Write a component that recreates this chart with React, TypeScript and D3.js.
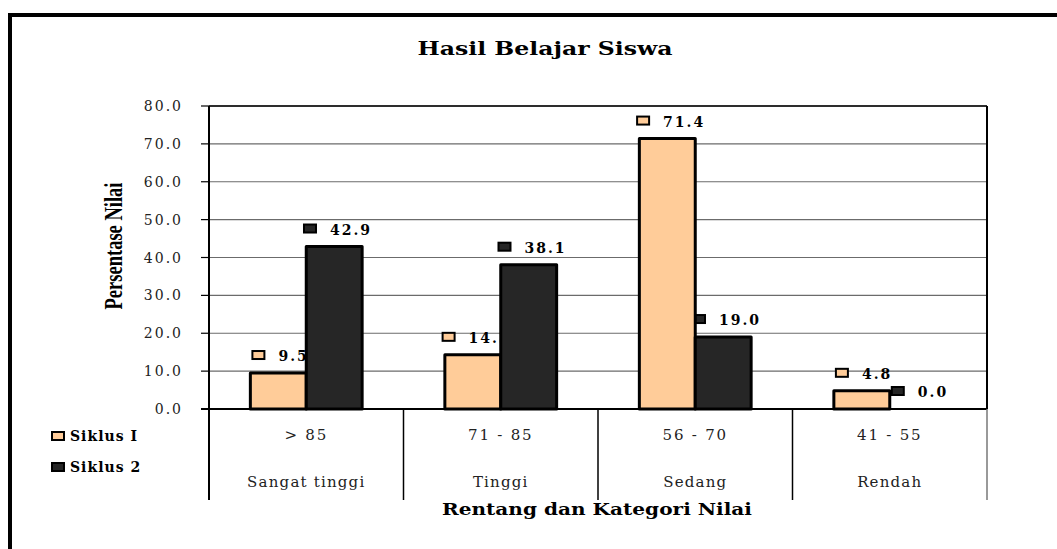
import * as d3 from "d3"

const ranges = ["> 85", "71 - 85", "56 - 70", "41 - 55"]
const kategori = ["Sangat tinggi", "Tinggi", "Sedang", "Rendah"]
const seriesNames = ["Siklus I", "Siklus 2"]
const siklus1 = [9.5, 14.3, 71.4, 4.8]
const siklus2 = [42.9, 38.1, 19.0, 0.0]
const yTicks = [0, 10, 20, 30, 40, 50, 60, 70, 80]

const colors = ["#FFCC99", "#262626"]
const serif = "'DejaVu Serif', serif"
const timesLike = "'Liberation Serif', serif"

export default function App() {
  const width = 1057
  const height = 549
  const plot = { left: 209, right: 987, top: 106, bottom: 409 }
  const tableBottom = 500

  const x = d3.scaleBand().domain(ranges).range([plot.left, plot.right])
  const xs = d3
    .scaleBand()
    .domain(seriesNames)
    .range([0, x.bandwidth()])
    .paddingInner(0)
    .paddingOuter(0.74)
  const y = d3.scaleLinear().domain([0, 80]).range([plot.bottom, plot.top])

  const values = [siklus1, siklus2]

  return (
    <svg
      width={width}
      height={height}
      style={{ position: "absolute", left: 0, top: 0, background: "#fff", fontFamily: serif }}
    >
      {/* bingkai luar */}
      <rect x={10} y={15} width={1200} height={700} fill="none" stroke="#000" strokeWidth={4} />

      <text x={545} y={55} textAnchor="middle" fontSize={19} fontWeight="bold" textLength={255} lengthAdjust="spacingAndGlyphs">
        Hasil Belajar Siswa
      </text>

      {/* grid + sumbu y */}
      {yTicks.map((t) => (
        <g key={t}>
          <line x1={plot.left} x2={plot.right} y1={y(t)} y2={y(t)} stroke="#6b6b6b" strokeWidth={1.2} />
          <line x1={201} x2={plot.left} y1={y(t)} y2={y(t)} stroke="#000" strokeWidth={1.2} />
          <text x={183} y={y(t) + 5} textAnchor="end" fontSize={14} letterSpacing={2} fill="#222">
            {t.toFixed(1)}
          </text>
        </g>
      ))}

      <text
        transform="translate(122,246) rotate(-90)"
        textAnchor="middle"
        fontSize={26}
        fontWeight="bold"
        fontFamily={timesLike}
        textLength={127}
        lengthAdjust="spacingAndGlyphs"
      >
        Persentase Nilai
      </text>

      {/* label data (di bawah batang) */}
      {ranges.map((r, i) =>
        seriesNames.map((s, j) => {
          const v = values[j][i]
          const cx = (x(r) ?? 0) + (xs(s) ?? 0) + xs.bandwidth() / 2
          const ly = y(v) - 18
          const label = v.toFixed(1)
          const w = 15 + 11 + label.length * 8.6
          const x0 = cx - w / 2
          return (
            <g key={`${r}-${s}`}>
              <rect x={x0} y={ly - 4} width={12} height={8} fill={colors[j]} stroke="#000" strokeWidth={2} />
              <text x={x0 + 26} y={ly + 6} fontSize={14} fontWeight="bold" letterSpacing={2}>
                {label}
              </text>
            </g>
          )
        })
      )}

      {/* batang */}
      {ranges.map((r, i) => (
        <g key={r}>
          {seriesNames.map((s, j) => {
            const bx = (x(r) ?? 0) + (xs(s) ?? 0)
            const v = values[j][i]
            return (
              <rect
                key={s}
                x={bx}
                y={y(v)}
                width={xs.bandwidth()}
                height={plot.bottom - y(v)}
                fill={colors[j]}
                stroke="#000"
                strokeWidth={3}
                strokeLinejoin="round"
              />
            )
          })}
        </g>
      ))}

      {/* bingkai plot */}
      <line x1={plot.left} x2={plot.right} y1={plot.top} y2={plot.top} stroke="#000" strokeWidth={1.5} />
      <line x1={plot.right} x2={plot.right} y1={plot.top} y2={plot.bottom} stroke="#000" strokeWidth={2} />
      <line x1={plot.left} x2={plot.left} y1={plot.top} y2={tableBottom} stroke="#000" strokeWidth={2} />
      <line x1={201} x2={plot.right} y1={plot.bottom} y2={plot.bottom} stroke="#000" strokeWidth={2} />

      {/* tabel kategori */}
      {ranges.map((r, i) => (
        <g key={r}>
          {i > 0 && (
            <line x1={x(r)} x2={x(r)} y1={plot.bottom} y2={tableBottom} stroke="#000" strokeWidth={1.5} />
          )}
          <text
            x={(x(r) ?? 0) + x.bandwidth() / 2}
            y={440}
            textAnchor="middle"
            fontSize={15}
            letterSpacing={1.8}
            fill="#222"
          >
            {r}
          </text>
          <text
            x={(x(r) ?? 0) + x.bandwidth() / 2}
            y={487}
            textAnchor="middle"
            fontSize={15}
            letterSpacing={1.2}
            fill="#222"
          >
            {kategori[i]}
          </text>
        </g>
      ))}
      <line x1={plot.right} x2={plot.right} y1={plot.bottom} y2={tableBottom} stroke="#777" strokeWidth={1.5} />

      {/* legenda */}
      {seriesNames.map((s, j) => (
        <g key={s} transform={`translate(52,${432 + j * 31})`}>
          <rect x={0} y={0} width={12} height={8} fill={colors[j]} stroke="#000" strokeWidth={2} />
          <text x={18} y={9} fontSize={14} fontWeight="bold" letterSpacing={1}>
            {s}
          </text>
        </g>
      ))}

      <text x={597} y={515} textAnchor="middle" fontSize={17} fontWeight="bold" textLength={310} lengthAdjust="spacingAndGlyphs">
        Rentang dan Kategori Nilai
      </text>
    </svg>
  )
}
